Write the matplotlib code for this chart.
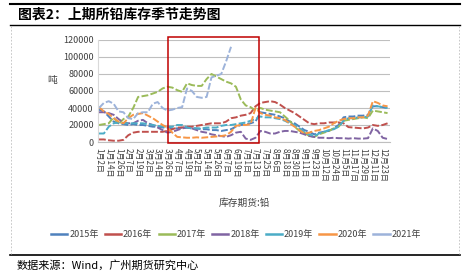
import numpy as np
import matplotlib
matplotlib.use("Agg")
import matplotlib.pyplot as plt
from matplotlib.lines import Line2D
from matplotlib.patches import Rectangle

plt.rcParams['font.family'] = ['Noto Sans CJK SC', 'DejaVu Sans']

# tick labels on the category axis
labels = ["1月2日", "1月14日", "1月26日", "2月7日", "2月19日", "3月2日", "3月14日",
          "3月26日", "4月7日", "4月19日", "5月2日", "5月14日", "5月26日", "6月7日",
          "6月19日", "7月1日", "7月13日", "7月25日", "8月6日", "8月18日", "8月30日",
          "9月11日", "9月23日", "10月12日", "10月24日", "11月5日", "11月17日",
          "11月29日", "12月11日", "12月23日"]

# readings every half label step (label index 0, 0.5, ... 29.5)
y2015 = [38000, 36000, 30000, 24000, 22000, 21000, 20000, 21000, 20000, 20000,
         19000, 18000, 18000, 17000, 17000, 16000, 16000, 17000, 17000, 16000,
         16000, 15000, 15000, 14000, 14000, 13000, 14000, 15000, 18000, 20000,
         21000, 22000, 24000, 35000, 34000, 33000, 32000, 30000, 28000, 24000,
         22000, 18000, 14000, 12000, 9000, 11000, 12000, 13000, 16000, 20000,
         29000, 30000, 30000, 31000, 31000, 32000, 42000, 42000, 41000, 40000]
y2016 = [3000, 3000, 2000, 1500, 1500, 2500, 8000, 11000, 12000, 12000,
         12000, 12000, 12000, 12000, 13000, 15000, 17000, 17000, 18000, 18000,
         19000, 20000, 21000, 22000, 22000, 22000, 24000, 28000, 29000, 31000,
         32000, 34000, 42000, 46000, 47000, 48000, 47000, 44000, 40000, 37000,
         34000, 30000, 26000, 22000, 21000, 22000, 22000, 23000, 23000, 23000,
         22000, 17500, 17000, 16500, 16000, 17000, 20000, 19000, 20000, 22000]
y2017 = [20000, 21000, 22000, 29000, 21000, 27000, 30000, 40000, 53000, 54000,
         55000, 57000, 59000, 63000, 65000, 64000, 61000, 59000, 69000, 67000,
         66000, 66000, 74000, 80000, 77000, 74000, 71000, 69000, 65000, 50000,
         43000, 41000, 37000, 40000, 38000, 37000, 36000, 35000, 30000, 25000,
         18000, 13000, 11000, 7000, 6000, 9000, 11000, 13000, 16000, 18000,
         25000, 26000, 27000, 28000, 29000, 28000, 37000, 36000, 35000, 34000]
y2018 = [35000, 35000, 34000, 32000, 27000, 23000, 22000, 22000, 25000, 26000,
         22000, 20000, 17000, 14000, 11000, 12000, 14000, 16000, 17000, 16000,
         14000, 12000, 11000, 9000, 8000, 7000, 6000, 8000, 11000, 12000,
         4000, 2500, 5000, 13000, 12000, 10000, 10000, 12000, 13000, 13000,
         12000, 11000, 9000, 7000, 6000, 5000, 5000, 4500, 5000, 4500,
         4500, 4000, 4500, 4000, 4000, 4500, 16000, 13000, 5000, 3500]
y2019 = [10000, 10000, 18000, 22000, 23000, 22000, 22000, 22000, 22000, 22000,
         21000, 20000, 19000, 18000, 18000, 18000, 20000, 20000, 17000, 16000,
         16000, 16000, 17000, 17000, 17000, 19000, 20000, 20000, 21000, 22000,
         23000, 25000, 27000, 30000, 29000, 29000, 28000, 27000, 25000, 22000,
         20000, 16000, 12000, 9000, 7000, 10000, 12000, 14000, 15000, 18000,
         25000, 28000, 28000, 29000, 29000, 30000, 43000, 42000, 41000, 40000]
y2020 = [41000, 36000, 33000, 28000, 24000, 22000, 28000, 32000, 33000, 34000,
         31000, 28000, 24000, 20000, 17000, 11000, 6000, 5500, 5000, 5000,
         5500, 5000, 5500, 6000, 6500, 7000, 8000, 12000, 19000, 20000,
         20000, 21000, 40000, 34000, 32000, 31000, 29000, 28000, 26000, 22000,
         18000, 14000, 10000, 11000, 13000, 14000, 16000, 18000, 22000, 25000,
         27000, 28000, 28000, 29000, 29000, 31000, 48000, 46000, 43000, 42000]
y2021 = [40000, 46000, 48000, 45000, 36000, 35000, 28000, 27000, 34000, 35000,
         35000, 45000, 47000, 40000, 37000, 38000, 40000, 41000, 63000, 60000,
         53000, 52000, 53000, 76000, 78000, 80000, 95000, 112000]

years = ["2015年", "2016年", "2017年", "2018年", "2019年", "2020年", "2021年"]
series = [y2015, y2016, y2017, y2018, y2019, y2020, y2021]
colors = ["#4F81BD", "#C0504D", "#9BBB59", "#8064A2", "#4BACC6", "#F79646", "#9DB3DA"]

# highlighted window (label units / tons)
box_x0, box_x1 = 7.1, 16.4
box_y0, box_y1 = -1200, 124000

fig = plt.figure(figsize=(4.69, 2.77), dpi=100)
ax = fig.add_axes([98 / 469, 1 - 142 / 277, 292 / 469, 102 / 277])

for vals, c in zip(series, colors):
    x = np.arange(len(vals)) * 0.5
    ax.plot(x, vals, color=c, lw=1.4, ls=(0, (3.5, 1.2)))

ax.add_patch(Rectangle((box_x0, box_y0), box_x1 - box_x0, box_y1 - box_y0,
                       fill=False, ec="#C00000", lw=1.1, clip_on=False, zorder=5))

ax.set_ylim(0, 120000)
ax.set_yticks(np.arange(0, 120001, 20000))
ax.set_xlim(-0.1, 29.75)
ax.set_xticks(np.arange(len(labels)))
ax.set_xticklabels(labels, rotation=-90, fontsize=5.8, color="#404040")
ax.tick_params(axis="y", labelsize=6.5, labelcolor="#404040", length=0, pad=3)
ax.tick_params(axis="x", length=0, pad=4)
ax.grid(axis="y", color="#BFBFBF", lw=0.8)
ax.set_axisbelow(True)
for s in ["top", "right"]:
    ax.spines[s].set_visible(False)
ax.spines["left"].set_color("#D9D9D9")
ax.spines["bottom"].set_color("#BFBFBF")

fig.text(52 / 469, 1 - 80 / 277, "吨", fontsize=7, color="#404040", ha="center", va="center")
fig.text(244 / 469, 1 - 203 / 277, "库存期货:铅", fontsize=7, color="#404040", ha="center", va="center")

handles = [Line2D([], [], color=c, lw=1.8) for c in colors]
fig.legend(handles, years, loc="center", bbox_to_anchor=(236 / 469, 1 - 235 / 277),
           ncol=7, frameon=False, fontsize=6.5, handlelength=1.8, handletextpad=0.2,
           columnspacing=0.7, labelcolor="#404040")

# report frame
fig.add_artist(Line2D([10 / 469, 460 / 469], [1 - 4 / 277] * 2, color="black", lw=1.5))
fig.add_artist(Line2D([10 / 469, 460 / 469], [1 - 25 / 277] * 2, color="black", lw=1.0))
fig.add_artist(Line2D([10 / 469, 460 / 469], [1 - 255 / 277] * 2, color="black", lw=1.2))
for xp in [11, 459]:
    fig.add_artist(Line2D([xp / 469] * 2, [1 - 26 / 277, 1 - 254 / 277],
                          color="#BFBFBF", lw=0.6, ls=(0, (2, 2))))

fig.text(18 / 469, 1 - 15 / 277, "图表2：上期所铅库存季节走势图", fontsize=10,
         fontweight="bold", ha="left", va="center")
fig.text(17 / 469, 1 - 265 / 277, "数据来源：Wind，广州期货研究中心", fontsize=8,
         ha="left", va="center")

fig.savefig("out.png", dpi=100)
